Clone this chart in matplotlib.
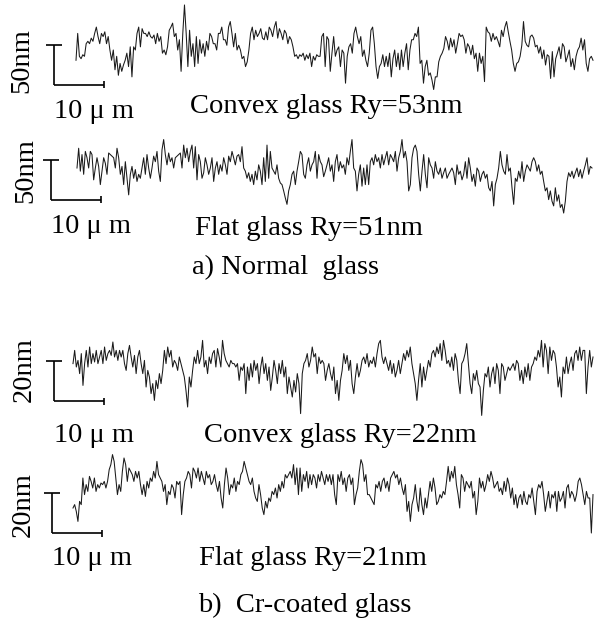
import numpy as np
from matplotlib import pyplot as plt

plt.rcParams["font.family"] = ["Liberation Serif", "DejaVu Serif"]

convex_normal_nm = [
    -13, 21, -8, -11, -6, -8, 8, 11, 8, 15, 11, 21, 29, 17, 8, 21, 17, 23, 8, 17, 0, -13, 0, -25, -8,
    -32, -17, -27, -19, -13, -4, -21, 4, -34, 4, 0, 21, 29, 4, 27, 21, 21, 17, 23, 17, 15, 19, 8, 21, 11,
    17, -4, 0, -6, 4, 25, 29, 34, 17, 21, 0, 13, -27, 21, 57, 21, -21, 25, -8, 8, -21, 17, -17, 13, -4,
    8, -8, 11, 0, 21, 17, 8, 8, 0, 21, 21, 29, 13, 13, 6, 29, 36, 21, 4, 21, 0, 6, 0, -11, -8,
    -21, -15, 0, 21, 29, 13, 25, 17, 21, 27, 15, 13, 23, 13, 29, 25, 17, 29, 36, 15, 27, 21, 13, 25, 21,
    8, 17, 13, 4, -8, -6, -11, -6, -8, -4, -13, -6, -11, -4, -21, -8, -13, -6, -8,
    -8, 17, 21, -21, 17, 13, -27, -4, 17, -8, 0, 4, -21, 0, -4, -42, -8, 4, 8, -4, 21, 29, 17, 8, 17,
    -8, 0, -13, -21, -4, 25, 29, 8, -21, -36, -21, -17, -6, -21, -8, -21, -4, -34, -11, 0, -21, -4, -25, 0, -21,
    -4, 8, -25, 0, 13, 13, 21, 17, 29, -17, -13, -42, -21, -13, -32, -29, -38, -50, -34, -34, -15, -8, -4, 2, 17,
    11, 0, 15, 4, 13, -4, 8, 21, 17, 19, 13, -4, 8, 4, -6, 6, -11, -4, -27, -4, -17, -8, -40, 29, 23,
    21, 11, 21, 13, 17, 11, 4, 25, 17, 29, 36, 23, 11, 0, -17, -27, -17, -15, -8, 6, 36, 11, 6, 4, 17,
    19, 15, 4, 6, -4, 4, -11, 0, -19, -6, -8, -36, -2, -34, -11, -4, 4, -11, 8, 4, -15, -8, 0, -21, -11,
    -25, -8, 0, 4, 15, 0, 13, -17, -27, -11, -8, -13,
]
flat_normal_nm = [
    0, 25, -4, 17, -8, 21, 13, 0, 21, 17, -15, 0, 13, 2, -21, -4, 13, 6, -8, 19, 17, 15, 13, 0, 25,
    13, -8, 2, -21, 8, -13, -34, -8, 2, -13, -2, -17, -8, -13, 0, 13, -8, 17, 0, -13, 0, 15, 8, 21, -4,
    -17, 23, 36, 17, 4, 19, 8, 13, 0, 13, 15, 17, 19, 0, 29, 13, 25, 8, 21, 29, 0, 27, -15, 17, 8,
    -13, -6, 13, 4, -8, 0, 13, -17, 0, 8, -8, 4, -4, 13, 4, -8, 15, 8, 21, 13, 4, 15, 17, 8, 27,
    0, -4, -13, -6, -17, -8, -21, -4, -15, 4, -4, -21, 13, -17, 29, -13, 21, 0, -4, -8, 4, -13, -19, -21, -29,
    -38, -46, -29, -21, -8, -4, -21, -4, 8, 21, 17, -8, -13, 4, 13, -4, 4, 8, 21, -13, 17, 8, 4, -11, -4,
    4, 13,
    -4, 4, -17, 8, 17, -4, 8, 0, 4, -8, 13, 4, 21, 36, 0, -4, -29, -8, 4, -23, 0, -21, 4, -21, 8,
    13, 4, 17, 8, 13, 0, 17, 4, 13, 21, 4, 17, 13, 8, 21, -4, 13, 21, 36, 13, 21, 8, -29, -21, 13,
    25, 29, 21, -8, -29, -4, 17, -8, -25, 13, 4, 0, -13, 8, -4, -8, 0, -13, -6, 0, -13, -8, -4, 0, -6,
    -21, 4, -8, -4, -15, -8, 8, -13, 13, 0, -17, -8, -23, 0, -4, -17, -8, -4, -13, -8, -25, -29, -17, -48, -21,
    -13, 0, 21, 4, -4, -8, 17, -4, 0, -25, -46, -13, -17, -4, -13, 8, -17, -4, 4, 0, -4, 8, 13, 8, -4,
    4, -8, -4, -17, -29, -25, -40, -29, -42, -48, -25, -42, -34, -50, -46, -57, -42, -17, -6, -11, -4, -13, -6, 0, -11,
    -2, -13, -4, 4, 13, -8, 2, 0,
]
convex_cr_nm = [
    1.7, 8.3, 0, 3.3, -3.3, 6.7, -9.2, 1.7, 8.3, 0, 10, 1.7, 6.7, 2.5, 8.3, 1.7, 5, 8.3, 1.7, 10,
    3.3, 6.7, 8.3, 5.8, 12.5, 5, 8.3, 3.3, 8.3, 5, 8.3, 1.7, -1.7, 6.7, 10.8, 5, 0, 5.8, -3.3, 5,
    8.3, 1.7, -3.3, 3.3, -10, -1.7, -5, -13.3, -8.3, -16.7, -6.7, -10.8, -3.3, -8.3, -1.7, 8.3, 1.7, 10, 5, 8.3,
    0, 3.3, 1.7, -1.7, 5, 1.7, -1.7, -5, -11.7, -20, -5, -10, -1.7, 5, 1.7, 8.3, 1.7, 5, 13.3, 0,
    3.3, -3.3, 5, 1.7, 6.7, 8.3, 0, 9.2, 5, 0, 13.3, 6.7, 3.3, 1.7, 0, 3.3, 1.7, 1.7, 0, 1.7,
    -6.7, 0, -1.7, 1.7, -13.3, 0, -6.7, 1.7, -5, 3.3, -1.7, 1.7, -8.3, 0, 5, -3.3, 1.7, -6.7, 0, -11.7,
    -5, 3.3, -1.7, -8.3, 1.7, -3.3, 3.3, -5, 0, -13.3, -5, -10, -15, -6.7, -12.5, -3.3, -8.3, -23.3, -3.3, 1.7,
    3.3, 6.7, 0, 3.3, 10, 5, 6.7, -3.3, 5, 1.7, 3.3, 1.7, -6.7, -1.7, 1.7,
    -3.3, -6.7, 0, -13.3, -6.7, -16.7, -6.7, -1.7, 6.7, 1.7, 5.8, -1.7, 3.3, -8.3, -13.3, -5, 1.7, -5, -1.7, 3.3,
    5, 1.7, 6.7, 0, 3.3, 1.7, 5, 0, 6.7, 11.7, 13.3, 5, 1.7, 5, 1.7, -1.7, 3.3, -3.3, 1.7, -5,
    -1.7, 3.3, -3.3, 1.7, 6.7, 3.3, 8.3, 5, 10, 1.7, -3.3, -8.3, -16.7, -6.7, 1.7, -10, 0, -6.7, -1.7, 3.3,
    0, 6.7, 8.3, 5, 10, 6.7, 11.7, 3.3, 13.3, 8.3, 1.7, 3.3, 0, 5, -1.7, 6.7, 3.3, -6.7, -13.3, 1.7,
    3.3, 6.7, 11.7, 1.7, -8.3, -13.3, -3.3, -6.7, -1.7, -8.3, -10, -24.2, -11.7, -3.3, -5, 0, -10, -3.3, 0, -8.3,
    1.7, -1.7, -13.3, 1.7, 0, -6.7, -3.3, 0, -1.7, 0, 1.7, -1.7, 3.3, 1.7, -6.7, -1.7, -8.3, 0, -5, 1.7,
    -6.7, 0, 1.7, 5, 3.3, 8.3, 5, 13.3, 0, 11.7, 8.3, -3.3, 10, 3.3, 8.3, 6.7, 0, -10, -5, -15,
    0, -3.3, 5, -3.3, 1.7, 5, -1.7, 6.7, 8.3, 3.3, 10, 3.3, 8.3, 8.3, -13.3, 0, 8.3, 0, 5,
]
flat_cr_nm = [
    -10, -8.3, -11.7, -16.7, -6.7, -8.3, 5, -3.3, 1.7, -1.7, 5.8, 3.3, 0, 5, -1.7, 1.7, 0, 2.5, 1.7, 3.3,
    0, 3.3, 9.2, 11.7, 16.7, 13.3, 5, -3.3, 1.7, -1.7, 8.3, 15, 11.7, 3.3, 10, 8.3, 6.7, 3.3, 8.3, 5,
    8.3, 1.7, -3.3, 1.7, -4.2, 3.3, 0, 5, 3.3, 8.3, 5, 13.3, 6.7, 5, 3.3, -1.7, 1.7, -8.3, -1.7, -3.3,
    1.7, 0, -5, 3.3, 1.7, 3.3, -13.3, -3.3, 3.3, 5, 8.3, 6.7, 0, 10, 8.3, 5, 10, 3.3, 8.3, 5,
    1.7, 8.3, 5, 6.7, 1.7, 3.3, 6.7, 1.7, -1.7, 3.3, -5, -10, 1.7, 10, 5, -3.3, 1.7, 0, 5, -1.7,
    3.3, 1.7, 6.7, 8.3, 13.3, 10, 6.7, 3.3, 1.7, 5, -1.7, -5, -6.7, 1.7, -3.3, -10, -13.3, -6.7, -10, -5,
    -6.7, -1.7, -3.3, 0, -5, 1.7, -1.7, 3.3, 0, 6.7, 5, 6.7, 8.3, 5, 11.7, 1.7, 10, -3.3, 10, -1.7,
    6.7, 3.3, 8.3, 0, 6.7, 1.7, 6.7, 5, 0, 6.7, 3.3, 8.3, 5, 1.7, 6.7, 3.3, 6.7,
    1.7, 6.7, -3.3, -8.3, 6.7, 3.3, 8.3, 1.7, 5, -1.7, 5, 6.7, 1.7, 5, -8.3, -3.3, 0, 8.3, 14.2, 11.7,
    3.3, 6.7, -3.3, -3.3, -5, -6.7, -8.3, 1.7, 0, 3.3, -1.7, 3.3, 5, 0, 3.3, -1.7, 5, 6.7, 8.3, 5,
    6.7, 1.7, 5, 0, -3.3, 1.7, -11.7, -6.7, -16.7, -8.3, -5, 1.7, -6.7, -11.7, 0, -8.3, -13.3, -5, -10, -3.3,
    3.3, -1.7, 5, 0, -8.3, -6.7, -3.3, -5, -1.7, -3.3, 3.3, 10.8, 3.3, 8.3, 5, 10.8, 1.7, -3.3, -10, 6.7,
    5, -1.7, 3.3, 1.7, 0, 3.3, -5, -1.7, -13.3, -6.7, 5, 0, 3.3, -1.7, 1.7, 6.7, 3.3, 8.3, 5, 0,
    1.7, 3.3, -1.7, 0, -3.3, 3.3, -1.7, 5, 1.7, -5, 0, -8.3, -3.3, -10, -5, -3.3, -8.3, -1.7, -6.7, -8.3,
    -3.3, -5, 0, -6.7, -13.3, -1.7, 1.7, 0, 3.3, -3.3, -11.7, -6.7, -1.7, -10, -3.3, -5, -1.7, -11.7, -1.7, -6.7,
    -5, -1.7, -10, 0, 1.7, -5, -1.7, -3.3, -6.7, -3.3, 3.3, 5, 1.7, -3.3, -8.3, -1.7, -5, -5, -22.5, -3.3,
]

profiles = [convex_normal_nm, flat_normal_nm, convex_cr_nm, flat_cr_nm]
labels = ["Convex glass Ry=53nm", "Flat glass Ry=51nm", "Convex glass Ry=22nm", "Flat glass Ry=21nm"]
bar_nm = [50, 50, 20, 20]
bar_um = 10
captions = ["a) Normal  glass", "b)  Cr-coated glass"]

W, H = 605, 623
PX_PER_UM = 5.0
FS = 20.5
fig = plt.figure(figsize=(W / 100, H / 100), dpi=100)

# per panel layout in pixels: trace start x, trace end x, y of 0 nm, px per nm,
# scale bar x, scale bar top y, "10 um" baseline, label centre x / baseline, rotated label centre
layout = [
    dict(x0=76, x1=593, yref=50, k=0.79, bx=54, btop=45, base=118, lab=(326, 113), rot=(22, 61)),
    dict(x0=77, x1=592, yref=168, k=0.79, bx=51, btop=160, base=233, lab=(309, 235), rot=(26, 171)),
    dict(x0=73, x1=593, yref=367, k=2.0, bx=54, btop=361, base=442, lab=(340, 442), rot=(24, 370)),
    dict(x0=73, x1=593, yref=488, k=2.0, bx=52, btop=493, base=565, lab=(313, 565), rot=(23, 505)),
]

for vals, lab, bn, L in zip(profiles, labels, bar_nm, layout):
    top, bot = L["yref"] - 70, L["yref"] + 70
    ax = fig.add_axes([0, 1 - bot / H, 1, (bot - top) / H])
    ax.set_xlim(-L["x0"] / PX_PER_UM, (W - L["x0"]) / PX_PER_UM)
    ax.set_ylim((L["yref"] - bot) / L["k"], (L["yref"] - top) / L["k"])
    ax.axis("off")

    span = (L["x1"] - L["x0"]) / PX_PER_UM
    x = np.linspace(0, span, len(vals))
    ax.plot(x, vals, color="#1a1a1a", lw=0.75, clip_on=False)

    # scale bar: T-cap, vertical bar, horizontal 10 um bar with end tick
    sx = (L["bx"] - L["x0"]) / PX_PER_UM
    sy = (L["yref"] - L["btop"]) / L["k"]
    cap = 1.6
    tick = 3.5 / L["k"]
    kw = dict(color="black", lw=1.2, clip_on=False, solid_capstyle="butt")
    ax.plot([sx - cap, sx + cap], [sy, sy], **kw)
    ax.plot([sx, sx], [sy, sy - bn], **kw)
    ax.plot([sx, sx + bar_um], [sy - bn, sy - bn], **kw)
    ax.plot([sx + bar_um, sx + bar_um], [sy - bn - tick, sy - bn + tick], **kw)

    fig.text(L["rot"][0] / W, 1 - L["rot"][1] / H, f"{bn}nm", rotation=90,
             ha="center", va="center", fontsize=FS)
    fig.text(L["bx"] / W, 1 - L["base"] / H, "10 μ m", ha="left", va="baseline", fontsize=FS)
    fig.text(L["lab"][0] / W, 1 - L["lab"][1] / H, lab, ha="center", va="baseline", fontsize=FS)

fig.text(286 / W, 1 - 274 / H, captions[0], ha="center", va="baseline", fontsize=FS)
fig.text(305 / W, 1 - 612 / H, captions[1], ha="center", va="baseline", fontsize=FS)

fig.savefig("out.png", dpi=100)
